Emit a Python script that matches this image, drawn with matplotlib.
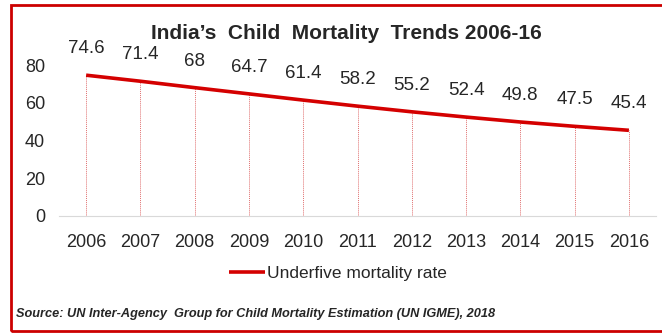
import matplotlib.pyplot as plt
from matplotlib.patches import Rectangle

# データ
years = ['2006', '2007', '2008', '2009', '2010', '2011', '2012', '2013', '2014', '2015', '2016']
u5mr = [74.6, 71.4, 68, 64.7, 61.4, 58.2, 55.2, 52.4, 49.8, 47.5, 45.4]
value_labels = ['74.6', '71.4', '68', '64.7', '61.4', '58.2', '55.2', '52.4', '49.8', '47.5', '45.4']
y_ticks = [0, 20, 40, 60, 80]

plt.rcParams['font.family'] = ['Liberation Sans', 'DejaVu Sans']
red = '#d40000'
txt = '#262626'

fig = plt.figure(figsize=(6.62, 3.33), dpi=100)
ax = fig.add_axes([0.0891, 0.3514, 0.9019, 0.4534])

x = list(range(len(years)))
# 縦の点線
ax.vlines(x, 0, u5mr, colors='#e07070', linestyles=(0, (1, 1)), lw=0.7, zorder=1)
ax.plot(x, u5mr, color=red, lw=2.6, solid_capstyle='butt', label='Underfive mortality rate', zorder=3)

for xi, v, s in zip(x, u5mr, value_labels):
    ax.annotate(s, (xi, v), xytext=(0, 13), textcoords='offset points',
                ha='center', va='bottom', fontsize=13.5, color=txt)

ax.set_xlim(-0.5, len(years) - 0.5)
ax.set_ylim(0, 80)
ax.set_xticks(x)
ax.set_xticklabels(years)
ax.set_yticks(y_ticks)
ax.tick_params(length=0, labelsize=13, colors=txt)
ax.tick_params(axis='x', pad=13)
ax.tick_params(axis='y', pad=10)
for sp in ['top', 'right', 'left']:
    ax.spines[sp].set_visible(False)
ax.spines['bottom'].set_color('#d9d9d9')
ax.spines['bottom'].set_linewidth(0.8)

fig.text(0.523, 0.9, 'India\u2019s  Child  Mortality  Trends 2006-16', ha='center', va='center',
         fontsize=15, fontweight='bold', color=txt)

fig.legend(loc='center', bbox_to_anchor=(0.51, 0.18), frameon=False, fontsize=12.5,
           handlelength=2.1, handletextpad=0.1, labelcolor=txt)

fig.text(0.024, 0.058, 'Source: UN Inter-Agency  Group for Child Mortality Estimation (UN IGME), 2018',
         ha='left', va='center', fontsize=9.2, fontstyle='italic', fontweight='bold', color=txt)

# 外枠
fig.patches.append(Rectangle((0.016, 0.006), 1.1, 0.978, transform=fig.transFigure,
                             fill=False, edgecolor='#cc0000', lw=2))

fig.savefig('out.png', dpi=100)
